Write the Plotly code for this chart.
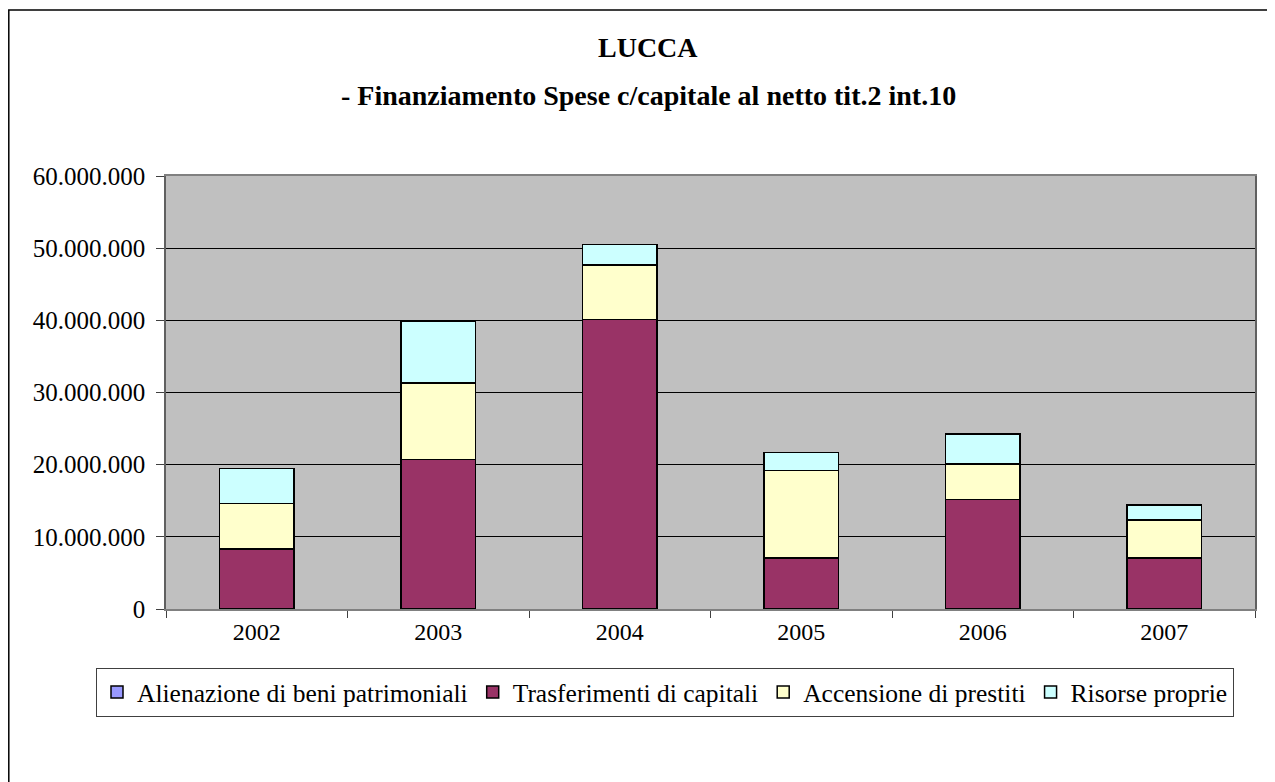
import plotly.graph_objects as go

years = ["2002", "2003", "2004", "2005", "2006", "2007"]
alienazione = [0, 0, 0, 0, 0, 0]
trasferimenti = [8_300_000, 20_700_000, 40_100_000, 7_050_000, 15_150_000, 7_050_000]
accensione = [6_350_000, 10_600_000, 7_600_000, 12_150_000, 4_950_000, 5_250_000]
risorse = [4_800_000, 8_600_000, 2_800_000, 2_500_000, 4_150_000, 2_100_000]

series = [
    ("Alienazione di beni patrimoniali", alienazione, "#9999FF"),
    ("Trasferimenti di capitali", trasferimenti, "#993366"),
    ("Accensione di prestiti", accensione, "#FFFFCC"),
    ("Risorse proprie", risorse, "#CCFFFF"),
]

FONT = "Liberation Serif, Times New Roman, serif"

fig = go.Figure()
for name, vals, col in series:
    fig.add_trace(go.Bar(
        x=years, y=vals, name=name,
        marker=dict(color=col, line=dict(color="black", width=1.5)),
    ))

# page has an 8px body margin: work in page coordinates, then shift
OFF = 8
W, H = 1275 - OFF, 782 - OFF
L, R, T, B = 166 - OFF, 1255 - OFF, 176 - OFF, 609 - OFF
pw, ph = R - L, B - T

def px(x):
    return (x - OFF - L) / pw

def py(y):
    return (B - (y - OFF)) / ph

fig.update_layout(
    width=W, height=H,
    margin=dict(l=L, r=W - R, t=T, b=H - B, pad=0),
    barmode="stack",
    bargap=0.59,
    plot_bgcolor="#C0C0C0",
    paper_bgcolor="white",
    separators=",.",
    font=dict(family=FONT, size=24, color="black"),
    showlegend=True,
    legend=dict(
        orientation="h",
        x=px(96), y=py(668), xanchor="left", yanchor="top",
        bordercolor="#404040", borderwidth=1,
        font=dict(family=FONT, size=25.5, color="black"),
        traceorder="normal",
        itemwidth=30,
        tracegroupgap=0,
    ),
    xaxis=dict(
        showline=True, linecolor="#808080", linewidth=1.5, mirror=True,
        ticks="outside", ticklen=7, tickcolor="#404040",
        tickson="boundaries", showgrid=False,
        tickfont=dict(family=FONT, size=24),
    ),
    yaxis=dict(
        range=[0, 60_000_000], dtick=10_000_000, tickformat=",.0f",
        showline=True, linecolor="#606060", linewidth=1.5, mirror=True,
        ticks="outside", ticklen=8, tickcolor="#404040",
        ticklabelstandoff=6,
        showgrid=True, gridcolor="black", gridwidth=1,
        tickfont=dict(family=FONT, size=25),
        zeroline=False,
    ),
    annotations=[
        dict(text="<b>LUCCA</b>", xref="paper", yref="paper",
             x=px(648), y=py(47), xanchor="center", yanchor="middle",
             showarrow=False, font=dict(family=FONT, size=28)),
        dict(text="<b>- Finanziamento Spese c/capitale al netto tit.2 int.10</b>",
             xref="paper", yref="paper",
             x=px(648), y=py(95), xanchor="center", yanchor="middle",
             showarrow=False, font=dict(family=FONT, size=28)),
    ],
    shapes=[
        dict(type="rect", xref="paper", yref="paper",
             x0=px(8.8), x1=px(1271), y0=py(800), y1=py(10),
             line=dict(color="black", width=1.5), fillcolor="rgba(0,0,0,0)",
             layer="below"),
    ],
)

fig.write_html("out.html")
